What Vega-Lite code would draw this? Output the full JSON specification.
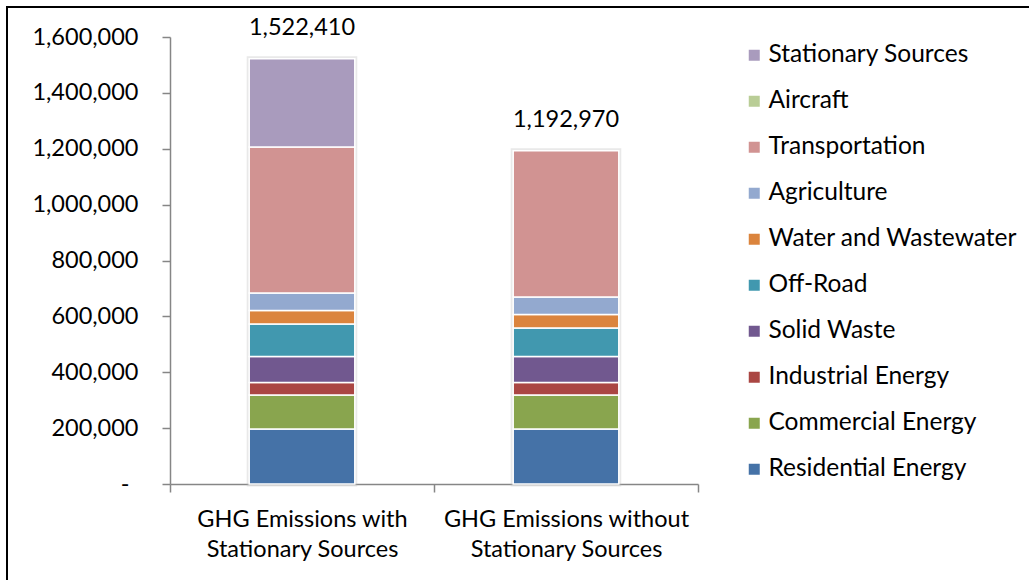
{
  "$schema": "https://vega.github.io/schema/vega-lite/v6.json",
  "width": 1026,
  "height": 577,
  "autosize": {"type": "none"},
  "padding": {"left": 7, "top": 7, "right": -4, "bottom": -4},
  "background": "white",
  "config": {
    "font": "Lato",
    "view": {"stroke": "black", "strokeWidth": 2},
    "axis": {"labelFont": "Lato", "labelColor": "black", "labelFontSize": 23.5}
  },
  "data": {
    "values": [
      {"scenario": "GHG Emissions with Stationary Sources", "sector": "Residential Energy", "ord": 1, "value": 196900},
      {"scenario": "GHG Emissions with Stationary Sources", "sector": "Commercial Energy", "ord": 2, "value": 121700},
      {"scenario": "GHG Emissions with Stationary Sources", "sector": "Industrial Energy", "ord": 3, "value": 44700},
      {"scenario": "GHG Emissions with Stationary Sources", "sector": "Solid Waste", "ord": 4, "value": 93100},
      {"scenario": "GHG Emissions with Stationary Sources", "sector": "Off-Road", "ord": 5, "value": 116300},
      {"scenario": "GHG Emissions with Stationary Sources", "sector": "Water and Wastewater", "ord": 6, "value": 48300},
      {"scenario": "GHG Emissions with Stationary Sources", "sector": "Agriculture", "ord": 7, "value": 62700},
      {"scenario": "GHG Emissions with Stationary Sources", "sector": "Transportation", "ord": 8, "value": 522600},
      {"scenario": "GHG Emissions with Stationary Sources", "sector": "Stationary Sources", "ord": 10, "value": 316110},
      {"scenario": "GHG Emissions without Stationary Sources", "sector": "Residential Energy", "ord": 1, "value": 196900},
      {"scenario": "GHG Emissions without Stationary Sources", "sector": "Commercial Energy", "ord": 2, "value": 121700},
      {"scenario": "GHG Emissions without Stationary Sources", "sector": "Industrial Energy", "ord": 3, "value": 44700},
      {"scenario": "GHG Emissions without Stationary Sources", "sector": "Solid Waste", "ord": 4, "value": 93100},
      {"scenario": "GHG Emissions without Stationary Sources", "sector": "Off-Road", "ord": 5, "value": 102000},
      {"scenario": "GHG Emissions without Stationary Sources", "sector": "Water and Wastewater", "ord": 6, "value": 48300},
      {"scenario": "GHG Emissions without Stationary Sources", "sector": "Agriculture", "ord": 7, "value": 62700},
      {"scenario": "GHG Emissions without Stationary Sources", "sector": "Transportation", "ord": 8, "value": 523570}
    ]
  },
  "encoding": {
    "x": {
      "field": "scenario",
      "type": "nominal",
      "sort": null,
      "scale": {"range": [163, 691], "paddingInner": 0, "paddingOuter": 0},
      "axis": {
        "title": null,
        "orient": "bottom",
        "offset": -100,
        "labelAngle": 0,
        "tickBand": "extent",
        "domainColor": "#868686",
        "domainWidth": 1.5,
        "tickColor": "#868686",
        "tickWidth": 1.5,
        "tickSize": 8,
        "labelPadding": 15,
        "labelLineHeight": 30,
        "labelLimit": 400,
        "labelExpr": "datum.value == 'GHG Emissions with Stationary Sources' ? ['GHG Emissions with', 'Stationary Sources'] : datum.value == 'GHG Emissions without Stationary Sources' ? ['GHG Emissions without', 'Stationary Sources'] : ''"
      }
    }
  },
  "layer": [
    {
      "transform": [
        {"aggregate": [{"op": "sum", "field": "value", "as": "total"}], "groupby": ["scenario"]}
      ],
      "mark": {"type": "bar", "width": {"band": 0.4}, "fill": null, "stroke": "#bfbfbf", "strokeWidth": 5, "strokeOpacity": 0.35},
      "encoding": {
        "y": {"field": "total", "type": "quantitative", "scale": {"domain": [0, 1600000], "range": [477, 30]}}
      }
    },
    {
      "mark": {"type": "bar", "width": {"band": 0.4}, "stroke": "white", "strokeWidth": 1.5},
      "encoding": {
        "y": {
          "field": "value",
          "type": "quantitative",
          "stack": "zero",
          "scale": {"domain": [0, 1600000], "range": [477, 30]},
          "axis": {
            "title": null,
            "orient": "left",
            "offset": -163,
            "values": [0, 200000, 400000, 600000, 800000, 1000000, 1200000, 1400000, 1600000],
            "grid": false,
            "domainColor": "#868686",
            "domainWidth": 1.5,
            "tickColor": "#868686",
            "tickWidth": 1.5,
            "tickSize": 8,
            "labelPadding": {"condition": {"test": "datum.value == 0", "value": 33}, "value": 24},
            "labelExpr": "datum.value == 0 ? '-' : format(datum.value, ',')"
          }
        },
        "color": {
          "field": "sector",
          "type": "nominal",
          "scale": {
            "domain": ["Stationary Sources", "Aircraft", "Transportation", "Agriculture", "Water and Wastewater", "Off-Road", "Solid Waste", "Industrial Energy", "Commercial Energy", "Residential Energy"],
            "range": ["#A99BBD", "#B9CD96", "#D19392", "#93A9CF", "#DB843D", "#4198AF", "#71588F", "#AA4643", "#89A54E", "#4572A7"]
          },
          "legend": {
            "title": null,
            "orient": "none",
            "legendX": 735,
            "legendY": 36,
            "symbolType": "square",
            "symbolSize": 121,
            "symbolStrokeWidth": 0,
            "labelFont": "Lato",
            "labelFontSize": 24.5,
            "labelColor": "black",
            "labelOffset": 2,
            "rowPadding": 21,
            "labelLimit": 300
          }
        },
        "order": {"field": "ord", "type": "quantitative"}
      }
    },
    {
      "transform": [
        {"aggregate": [{"op": "sum", "field": "value", "as": "total"}], "groupby": ["scenario"]}
      ],
      "mark": {"type": "text", "fontSize": 23.5, "font": "Lato", "color": "black", "baseline": "alphabetic", "dy": -24},
      "encoding": {
        "y": {"field": "total", "type": "quantitative", "scale": {"domain": [0, 1600000], "range": [477, 30]}},
        "text": {"field": "total", "type": "quantitative", "format": ","}
      }
    }
  ]
}
